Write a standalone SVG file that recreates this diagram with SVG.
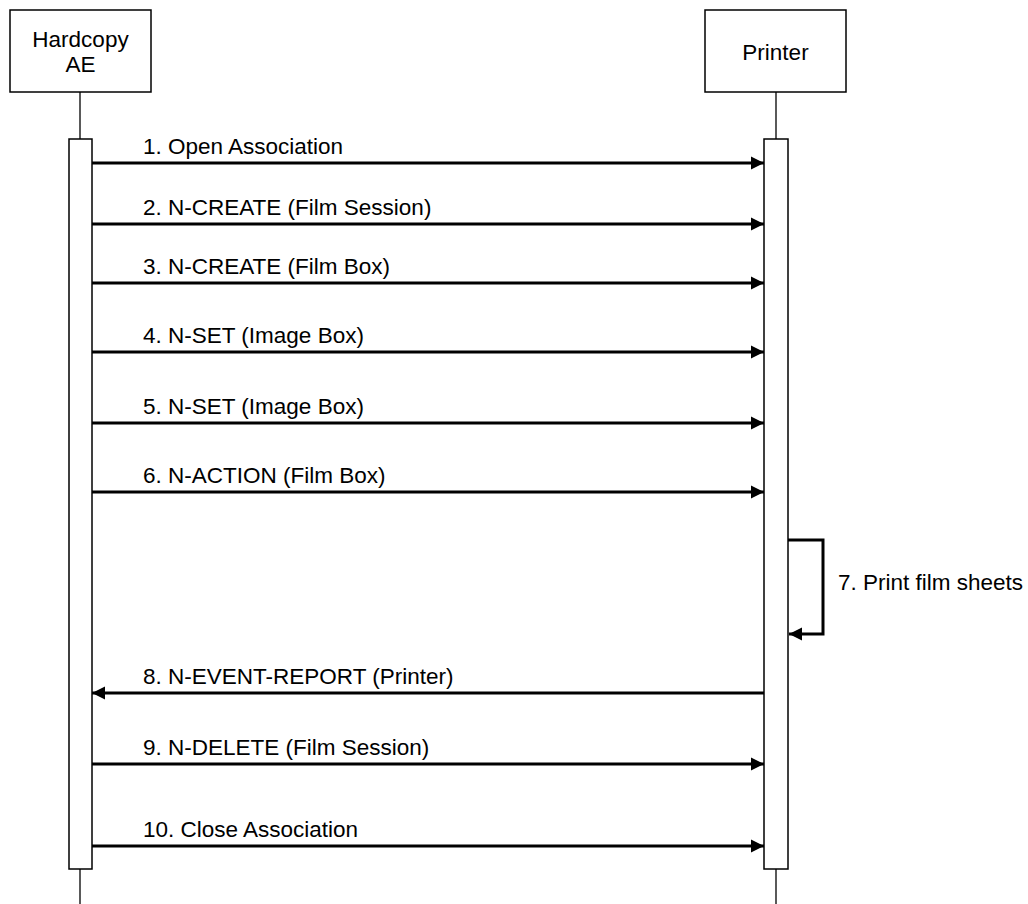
<svg xmlns="http://www.w3.org/2000/svg" width="1028" height="904" viewBox="0 0 1028 904">
<style>
.box{fill:#fff;stroke:#000;stroke-width:1.5}
.life{stroke:#000;stroke-width:1.3;fill:none}
.msg{stroke:#000;stroke-width:3;fill:none}
text{font-family:"Liberation Sans",Arial,sans-serif;font-size:22.5px;fill:#000}
.c{text-anchor:middle}
</style>
<defs>
<marker id="ah" markerUnits="userSpaceOnUse" markerWidth="14" markerHeight="14" viewBox="0 0 14 14" refX="13" refY="7" orient="auto">
<path d="M0,0.5 L13,7 L0,13.5 Z" fill="#000"/>
</marker>
</defs>
<g id="lifelines">
<line class="life" x1="80" y1="92" x2="80" y2="904"/>
<line class="life" x1="776" y1="92" x2="776" y2="904"/>
</g>
<g id="hardcopy">
<rect class="box" x="10" y="10" width="141" height="82"/>
<text class="c" x="80.5" y="47">Hardcopy</text>
<text class="c" x="80.5" y="72">AE</text>
<rect class="box" x="69" y="139" width="23" height="730"/>
</g>
<g id="printer">
<rect class="box" x="705" y="10" width="141" height="82"/>
<text class="c" x="775.5" y="60">Printer</text>
<rect class="box" x="764" y="139" width="24" height="730"/>
</g>
<g id="connectors">
<line class="msg" x1="92" y1="163" x2="764" y2="163" marker-end="url(#ah)"/>
<line class="msg" x1="92" y1="224" x2="764" y2="224" marker-end="url(#ah)"/>
<line class="msg" x1="92" y1="283" x2="764" y2="283" marker-end="url(#ah)"/>
<line class="msg" x1="92" y1="352" x2="764" y2="352" marker-end="url(#ah)"/>
<line class="msg" x1="92" y1="423" x2="764" y2="423" marker-end="url(#ah)"/>
<line class="msg" x1="92" y1="492" x2="764" y2="492" marker-end="url(#ah)"/>
<polyline class="msg" points="788,540 823,540 823,634 789,634" marker-end="url(#ah)"/>
<line class="msg" x1="764" y1="693" x2="92" y2="693" marker-end="url(#ah)"/>
<line class="msg" x1="92" y1="764" x2="764" y2="764" marker-end="url(#ah)"/>
<line class="msg" x1="92" y1="846" x2="764" y2="846" marker-end="url(#ah)"/>
</g>
<g id="labels">
<text x="143" y="154">1. Open Association</text>
<text x="143" y="215">2. N-CREATE (Film Session)</text>
<text x="143" y="274">3. N-CREATE (Film Box)</text>
<text x="143" y="343">4. N-SET (Image Box)</text>
<text x="143" y="414">5. N-SET (Image Box)</text>
<text x="143" y="483">6. N-ACTION (Film Box)</text>
<text x="838" y="590">7. Print film sheets</text>
<text x="143" y="684">8. N-EVENT-REPORT (Printer)</text>
<text x="143" y="755">9. N-DELETE (Film Session)</text>
<text x="143" y="837">10. Close Association</text>
</g>
</svg>
